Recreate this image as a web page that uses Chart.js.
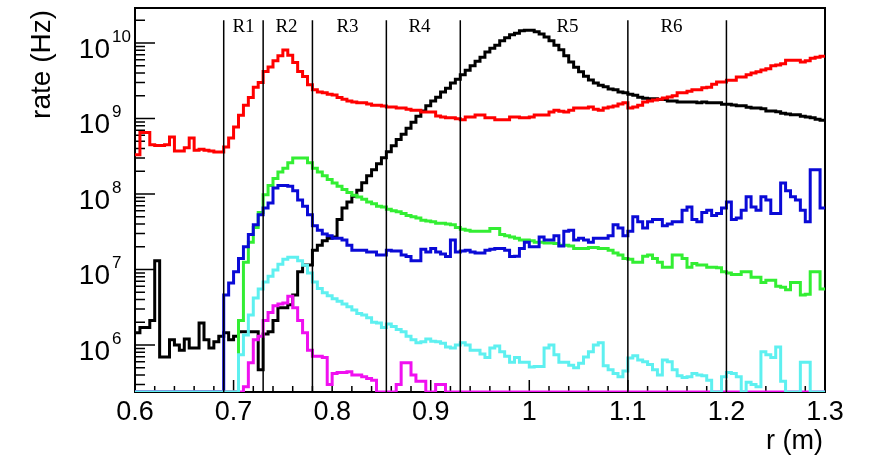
<!DOCTYPE html>
<html lang="en">
  <head>
    <meta charset="UTF-8" />
    <title>rate vs r</title>
    <style>
      body {
        margin: 0;
        background-color: #fff;
      }
      #wrap {
        width: 869px;
        height: 459px;
      }
    </style>
  </head>
  <body>
    <div id="wrap"><canvas id="chart" width="869" height="459"></canvas></div>

    <script src="https://cdn.jsdelivr.net/npm/chart.js"></script>
    <script>
      // 140 bins of 5 mm between r = 0.6 m and 1.3 m, 0 = below the frame
      var binStart = 0.6;
      var binWidth = 0.005;
      var yMin = 2.38e5;
      var yMax = 2.91e10;

      var black = [
        1.45e6, 1.7e6, 1.7e6, 2.1e6, 1.3e7, 6.9e5, 6.9e5, 1.17e6, 1.0e6, 8.5e5,
        1.2e6, 9.1e5, 9.1e5, 1.95e6, 1.17e6, 9.1e5, 1.1e6, 1.3e6, 1.45e6, 1.17e6,
        1.3e6, 1.5e6, 1.5e6, 1.5e6, 1.5e6, 4.7e5, 1.4e6, 1.5e6, 2.1e6, 3.1e6,
        3.1e6, 3.4e6, 4.6e6, 9.3e6, 1.15e7, 1.15e7, 1.8e7, 2.1e7, 2.4e7, 2.6e7,
        2.7e7, 4.6e7, 6.5e7, 7.8e7, 9.3e7, 1.12e8, 1.41e8, 1.74e8, 2.09e8, 2.51e8,
        3.02e8, 3.63e8, 4.37e8, 5.25e8, 6.17e8, 7.41e8, 8.91e8, 1.07e9, 1.26e9, 1.48e9,
        1.7e9, 1.91e9, 2.24e9, 2.51e9, 2.95e9, 3.31e9, 3.8e9, 4.37e9, 5.01e9, 5.75e9,
        6.46e9, 7.59e9, 8.51e9, 9.33e9, 1.07e10, 1.17e10, 1.29e10, 1.35e10, 1.45e10, 1.48e10,
        1.48e10, 1.41e10, 1.32e10, 1.2e10, 1.07e10, 9.33e9, 8.13e9, 6.76e9, 5.62e9, 4.79e9,
        4.17e9, 3.63e9, 3.24e9, 2.95e9, 2.75e9, 2.63e9, 2.45e9, 2.4e9, 2.24e9, 2.19e9,
        2.09e9, 2.04e9, 1.91e9, 1.86e9, 1.82e9, 1.82e9, 1.78e9, 1.78e9, 1.7e9, 1.7e9,
        1.66e9, 1.66e9, 1.66e9, 1.66e9, 1.62e9, 1.66e9, 1.62e9, 1.62e9, 1.62e9, 1.55e9,
        1.55e9, 1.51e9, 1.48e9, 1.48e9, 1.41e9, 1.38e9, 1.38e9, 1.35e9, 1.26e9, 1.26e9,
        1.23e9, 1.17e9, 1.15e9, 1.12e9, 1.12e9, 1.07e9, 1.05e9, 1.02e9, 0.98e9, 0.95e9
      ];

      var red = [
        3.3e8, 6.5e8, 6.5e8, 4.5e8, 4.4e8, 4.4e8, 4.5e8, 5.7e8, 3.7e8, 3.7e8,
        4.1e8, 5.5e8, 3.8e8, 3.9e8, 3.8e8, 3.7e8, 3.6e8, 3.6e8, 4.2e8, 5.5e8,
        7.7e8, 1.1e9, 1.5e9, 1.9e9, 2.6e9, 3.0e9, 4.2e9, 4.8e9, 5.8e9, 6.8e9,
        8.1e9, 6.9e9, 5.5e9, 4.2e9, 3.6e9, 2.8e9, 2.4e9, 2.25e9, 2.2e9, 2.1e9,
        2.05e9, 1.9e9, 1.8e9, 1.7e9, 1.65e9, 1.62e9, 1.62e9, 1.56e9, 1.5e9, 1.5e9,
        1.46e9, 1.42e9, 1.42e9, 1.38e9, 1.38e9, 1.33e9, 1.29e9, 1.29e9, 1.22e9, 1.22e9,
        1.22e9, 1.08e9, 1.05e9, 1.02e9, 1.02e9, 0.99e9, 0.96e9, 1.05e9, 1.05e9, 1.11e9,
        1.11e9, 1.02e9, 1.02e9, 0.96e9, 0.96e9, 0.96e9, 1.05e9, 1.05e9, 1.02e9, 1.02e9,
        1.05e9, 1.11e9, 1.11e9, 1.11e9, 1.22e9, 1.29e9, 1.25e9, 1.22e9, 1.29e9, 1.38e9,
        1.38e9, 1.38e9, 1.42e9, 1.33e9, 1.29e9, 1.38e9, 1.42e9, 1.46e9, 1.56e9, 1.62e9,
        1.38e9, 1.42e9, 1.5e9, 1.65e9, 1.7e9, 1.76e9, 1.8e9, 1.87e9, 1.92e9, 2.0e9,
        2.2e9, 2.2e9, 2.3e9, 2.4e9, 2.4e9, 2.55e9, 2.6e9, 2.85e9, 3.05e9, 3.05e9,
        3.2e9, 3.2e9, 3.55e9, 3.55e9, 3.8e9, 4.0e9, 4.15e9, 4.4e9, 4.55e9, 5.0e9,
        5.1e9, 5.3e9, 5.9e9, 5.9e9, 5.9e9, 5.6e9, 5.8e9, 6.3e9, 6.5e9, 6.7e9
      ];

      var green = [
        0, 0, 0, 0, 0, 0, 0, 0, 0, 0,
        0, 0, 0, 0, 0, 0, 0, 0, 0, 0,
        0, 2.1e6, 1.25e7, 2.3e7, 3.6e7, 5.7e7, 9.8e7, 1.3e8, 1.6e8, 1.95e8,
        2.2e8, 2.6e8, 3.0e8, 3.0e8, 3.0e8, 2.6e8, 2.2e8, 1.95e8, 1.75e8, 1.55e8,
        1.4e8, 1.27e8, 1.15e8, 1.05e8, 9.6e7, 9.1e7, 8.5e7, 7.8e7, 7.4e7, 6.9e7,
        6.7e7, 6.3e7, 6.0e7, 5.8e7, 5.5e7, 5.2e7, 5.0e7, 4.8e7, 4.5e7, 4.4e7,
        4.3e7, 4.1e7, 4.1e7, 4.0e7, 3.9e7, 3.6e7, 3.4e7, 3.3e7, 3.2e7, 3.2e7,
        3.2e7, 3.2e7, 3.5e7, 3.5e7, 2.9e7, 2.8e7, 2.7e7, 2.6e7, 2.45e7, 2.45e7,
        2.4e7, 2.3e7, 2.3e7, 2.25e7, 2.25e7, 2.2e7, 2.1e7, 2.1e7, 2.05e7, 1.9e7,
        1.9e7, 1.9e7, 1.95e7, 1.95e7, 1.9e7, 1.9e7, 1.8e7, 1.65e7, 1.55e7, 1.4e7,
        1.37e7, 1.25e7, 1.25e7, 1.5e7, 1.55e7, 1.4e7, 1.25e7, 1.07e7, 1.07e7, 1.55e7,
        1.55e7, 1.4e7, 1.07e7, 1.2e7, 1.15e7, 1.15e7, 1.07e7, 1.07e7, 1.05e7, 9.3e6,
        9.0e6, 8.6e6, 8.6e6, 9.3e6, 9.3e6, 7.9e6, 7.9e6, 6.7e6, 7.2e6, 7.2e6,
        6.0e6, 5.8e6, 5.4e6, 6.7e6, 6.7e6, 4.6e6, 4.7e6, 9.3e6, 9.3e6, 5.5e6
      ];

      var blue = [
        0, 0, 0, 0, 0, 0, 0, 0, 0, 0,
        0, 0, 0, 0, 0, 0, 0, 0, 4.6e6, 6.6e6,
        9.3e6, 1.4e7, 2.0e7, 2.9e7, 3.9e7, 5.3e7, 6.5e7, 7.6e7, 1.2e8, 1.3e8,
        1.3e8, 1.27e8, 1.1e8, 8.3e7, 6.9e7, 5.3e7, 3.8e7, 3.3e7, 2.95e7, 2.8e7,
        2.6e7, 2.6e7, 2.45e7, 2.1e7, 1.8e7, 1.8e7, 1.8e7, 1.7e7, 1.7e7, 1.55e7,
        1.55e7, 1.8e7, 1.75e7, 1.75e7, 1.55e7, 1.48e7, 1.3e7, 1.3e7, 1.85e7, 1.7e7,
        1.9e7, 1.7e7, 1.6e7, 1.48e7, 2.45e7, 1.7e7, 1.75e7, 1.8e7, 1.7e7, 1.65e7,
        1.65e7, 1.8e7, 1.85e7, 1.9e7, 1.9e7, 1.8e7, 1.48e7, 1.5e7, 1.9e7, 2.3e7,
        2.0e7, 2.0e7, 2.7e7, 2.45e7, 2.45e7, 2.8e7, 2.05e7, 3.2e7, 3.3e7, 2.45e7,
        2.6e7, 2.45e7, 2.3e7, 2.6e7, 2.6e7, 2.6e7, 2.8e7, 3.9e7, 3.55e7, 2.8e7,
        3.2e7, 5.0e7, 4.3e7, 3.55e7, 4.3e7, 4.6e7, 4.6e7, 3.8e7, 4.0e7, 4.3e7,
        4.3e7, 6.1e7, 6.7e7, 4.6e7, 4.3e7, 5.7e7, 6.1e7, 5.2e7, 5.5e7, 6.5e7,
        7.8e7, 4.6e7, 4.8e7, 6.1e7, 9.2e7, 6.7e7, 6.1e7, 9.2e7, 8.3e7, 5.5e7,
        5.5e7, 1.4e8, 1.1e8, 9.2e7, 8.3e7, 6.1e7, 4.3e7, 2.1e8, 2.1e8, 6.5e7
      ];

      var cyan = [
        0, 0, 0, 0, 0, 0, 0, 0, 0, 0,
        0, 0, 0, 0, 0, 0, 0, 0, 0, 0,
        0, 7.4e5, 1.35e6, 2.5e6, 4.2e6, 5.5e6, 6.8e6, 8.1e6, 9.8e6, 1.17e7,
        1.37e7, 1.45e7, 1.45e7, 1.3e7, 1.14e7, 9.0e6, 6.8e6, 5.6e6, 4.9e6, 4.5e6,
        4.1e6, 3.8e6, 3.5e6, 3.2e6, 2.9e6, 2.6e6, 2.5e6, 2.3e6, 2.0e6, 1.95e6,
        1.7e6, 1.9e6, 1.75e6, 1.6e6, 1.5e6, 1.3e6, 1.17e6, 1.07e6, 1.1e6, 1.2e6,
        1.12e6, 1.1e6, 1.05e6, 9.4e5, 9.1e5, 1.0e6, 1.07e6, 1.0e6, 8.5e5, 8.5e5,
        7.6e5, 6.8e5, 9.1e5, 9.7e5, 8.1e5, 7.1e5, 5.9e5, 6.8e5, 5.9e5, 5.9e5,
        5.1e5, 5.2e5, 5.2e5, 9.1e5, 1.0e6, 7.4e5, 5.9e5, 5.9e5, 5.4e5, 5.0e5,
        5.7e5, 6.9e5, 8.1e5, 1.0e6, 1.07e6, 5.3e5, 4.7e5, 4.2e5, 3.8e5, 4.5e5,
        6.7e5, 7.2e5, 6.3e5, 6.0e5, 5.5e5, 4.7e5, 4.0e5, 6.3e5, 6.0e5, 4.7e5,
        3.9e5, 3.7e5, 3.8e5, 4.2e5, 4.0e5, 3.9e5, 3.4e5, 0, 0, 3.8e5,
        4.3e5, 4.2e5, 3.8e5, 0, 3.2e5, 3.0e5, 2.8e5, 8.1e5, 7.4e5, 6.8e5,
        9.4e5, 3.3e5, 0, 0, 0, 5.9e5, 5.9e5, 0, 0, 0
      ];

      var magenta = [
        0, 0, 0, 0, 0, 0, 0, 0, 0, 0,
        0, 0, 0, 0, 0, 0, 0, 0, 0, 0,
        0, 0, 2.8e5, 5.8e5, 1.17e6, 1.3e6, 2.1e6, 2.7e6, 3.3e6, 3.5e6,
        3.6e6, 4.4e6, 3.1e6, 2.1e6, 1.45e6, 8.5e5, 7.1e5, 7.1e5, 6.8e5, 3.0e5,
        4.2e5, 4.3e5, 4.3e5, 4.4e5, 4.0e5, 4.0e5, 3.8e5, 3.6e5, 3.4e5, 0,
        0, 0, 0, 3.0e5, 5.8e5, 5.8e5, 4.0e5, 3.3e5, 3.3e5, 0,
        0, 3.0e5, 3.0e5, 0, 0, 0, 0, 0, 0, 0,
        0, 0, 0, 0, 0, 0, 0, 0, 0, 0,
        0, 0, 0, 0, 0, 0, 0, 0, 0, 0,
        0, 0, 0, 0, 0, 0, 0, 0, 0, 0,
        0, 0, 0, 0, 0, 0, 0, 0, 0, 0,
        0, 0, 0, 0, 0, 0, 0, 0, 0, 0,
        0, 0, 0, 0, 0, 0, 0, 0, 0, 0,
        0, 0, 0, 0, 0, 0, 0, 0, 0, 0
      ];

      // region boundaries and their labels
      var regionEdges = [0.69, 0.73, 0.78, 0.855, 0.93, 1.1, 1.2];
      var regionEdgeTop = 2.0e10;
      var regionNames = ["R1", "R2", "R3", "R4", "R5", "R6"];
      var regionLabelX = [0.7101, 0.7537, 0.8156, 0.8886, 1.0388, 1.1443];
      var regionLabelY = 1.4e10;

      var xTickValues = [0.6, 0.7, 0.8, 0.9, 1.0, 1.1, 1.2, 1.3];
      var xTickLabels = ["0.6", "0.7", "0.8", "0.9", "1", "1.1", "1.2", "1.3"];
      var yDecades = [6, 7, 8, 9, 10];

      function histPoints(values) {
        var pts = [];
        for (var i = 0; i < values.length; i++) {
          pts.push({ x: binStart + i * binWidth, y: Math.max(values[i], yMin) });
        }
        pts.push({
          x: binStart + values.length * binWidth,
          y: Math.max(values[values.length - 1], yMin),
        });
        return pts;
      }

      function histDataset(values, color) {
        return {
          data: histPoints(values),
          borderColor: color,
          borderWidth: 3,
          pointRadius: 0,
          stepped: "before",
          fill: false,
        };
      }

      var datasets = [];
      regionEdges.forEach(function (e) {
        datasets.push({
          data: [
            { x: e, y: regionEdgeTop },
            { x: e, y: yMin },
          ],
          borderColor: "#000",
          borderWidth: 1.5,
          pointRadius: 0,
          fill: false,
        });
      });
      // first entries are drawn on top
      datasets.push(histDataset(cyan, "#5ef0f0"));
      datasets.push(histDataset(magenta, "#f010f0"));
      datasets.push(histDataset(blue, "#0a0ad6"));
      datasets.push(histDataset(green, "#33ee33"));
      datasets.push(histDataset(red, "#ff0000"));
      datasets.push(histDataset(black, "#000000"));

      var frameAndText = {
        id: "frameAndText",
        beforeDatasetsDraw: function (chart) {
          var ctx = chart.ctx;
          var a = chart.chartArea;
          var xs = chart.scales.x;
          var ys = chart.scales.y;
          ctx.save();
          ctx.strokeStyle = "#000";
          ctx.lineWidth = 1.5;
          ctx.beginPath();
          for (var k = 0; k <= 35; k++) {
            var px = xs.getPixelForValue(0.6 + k * 0.02);
            var len = k % 5 === 0 ? 12 : 6;
            ctx.moveTo(px, a.bottom);
            ctx.lineTo(px, a.bottom - len);
          }
          for (var d = 5; d <= 10; d++) {
            for (var m = 1; m <= 9; m++) {
              var val = m * Math.pow(10, d);
              if (val < yMin || val > yMax) continue;
              var py = ys.getPixelForValue(val);
              ctx.moveTo(a.left, py);
              ctx.lineTo(a.left + (m === 1 ? 20 : 10), py);
            }
          }
          ctx.stroke();
          ctx.lineWidth = 2;
          ctx.strokeRect(a.left, a.top, a.right - a.left, a.bottom - a.top);
          ctx.restore();
        },
        afterDraw: function (chart) {
          var ctx = chart.ctx;
          var a = chart.chartArea;
          var xs = chart.scales.x;
          var ys = chart.scales.y;
          var sans = "'Liberation Sans', Arial, sans-serif";
          ctx.save();
          ctx.fillStyle = "#000";
          ctx.textBaseline = "alphabetic";

          // x tick labels
          ctx.font = "27px " + sans;
          ctx.textAlign = "center";
          xTickValues.forEach(function (v, i) {
            ctx.fillText(xTickLabels[i], xs.getPixelForValue(v), a.bottom + 28);
          });

          // y tick labels 10^n
          yDecades.forEach(function (d) {
            var py = ys.getPixelForValue(Math.pow(10, d));
            ctx.font = "28px " + sans;
            ctx.textAlign = "right";
            ctx.fillText("10", a.left - 25, py + 15);
            ctx.font = "17px " + sans;
            ctx.textAlign = "left";
            ctx.fillText(String(d), a.left - 23, py - 1);
          });

          // axis titles
          ctx.font = "27px " + sans;
          ctx.textAlign = "right";
          ctx.fillText("r (m)", a.right - 2, 449);
          ctx.save();
          ctx.translate(50, 10);
          ctx.rotate(-Math.PI / 2);
          ctx.font = "28px " + sans;
          ctx.textAlign = "right";
          ctx.fillText("rate (Hz)", 0, 0);
          ctx.restore();

          // region labels
          ctx.font = "19px 'Liberation Serif', 'Times New Roman', serif";
          ctx.textAlign = "center";
          regionNames.forEach(function (name, i) {
            ctx.fillText(
              name,
              xs.getPixelForValue(regionLabelX[i]),
              ys.getPixelForValue(regionLabelY)
            );
          });
          ctx.restore();
        },
      };

      new Chart(document.getElementById("chart"), {
        type: "line",
        data: { datasets: datasets },
        options: {
          responsive: false,
          animation: false,
          devicePixelRatio: 1,
          events: [],
          layout: { padding: { top: 8, right: 44, bottom: 0, left: 0 } },
          plugins: { legend: { display: false }, tooltip: { enabled: false } },
          scales: {
            x: {
              type: "linear",
              min: 0.6,
              max: 1.3,
              grid: { display: false },
              border: { display: false },
              ticks: { display: false },
              afterFit: function (s) {
                s.height = 67;
              },
            },
            y: {
              type: "logarithmic",
              min: yMin,
              max: yMax,
              grid: { display: false },
              border: { display: false },
              ticks: { display: false },
              afterFit: function (s) {
                s.width = 135;
              },
            },
          },
        },
        plugins: [frameAndText],
      });
    </script>
  </body>
</html>
